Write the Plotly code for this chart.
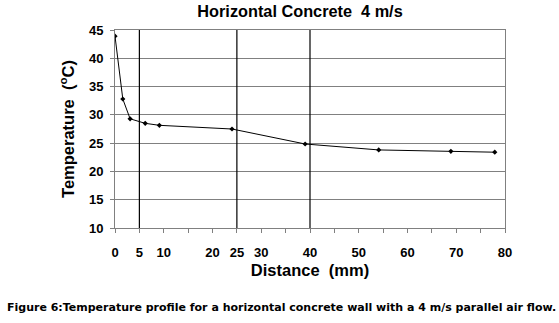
import plotly.graph_objects as go

distance_mm = [0, 1.6, 3.1, 6.2, 9.1, 24.0, 39.0, 54.1, 68.9, 77.9]
temperature_c = [43.9, 32.8, 29.3, 28.5, 28.15, 27.5, 24.85, 23.8, 23.55, 23.4]
x_tick_vals = [0, 5, 10, 20, 25, 30, 40, 50, 60, 70, 80]
y_tick_vals = [10, 15, 20, 25, 30, 35, 40, 45]
ref_lines_mm = [5, 25, 40]

title_text = "Horizontal Concrete\u00a0\u00a04 m/s"
x_title = "Distance\u00a0\u00a0(mm)"
y_title = "Temperature\u00a0\u00a0(<sup>o</sup>C)"
caption = "Figure 6:Temperature profile for a horizontal concrete wall with a 4 m/s parallel air flow."

FONT = "Liberation Sans, Arial, sans-serif"
CAP_FONT = "DejaVu Sans, Liberation Sans, sans-serif"

W, H = 559, 323
L, R, T, B = 115, 505, 30, 228

fig = go.Figure()
fig.add_trace(go.Scatter(
    x=distance_mm, y=temperature_c, mode="lines+markers",
    line=dict(color="black", width=1),
    marker=dict(symbol="diamond", size=4, color="black"),
    showlegend=False, hoverinfo="skip",
))

for xv in ref_lines_mm:
    fig.add_shape(type="line", xref="x", yref="y", x0=xv, x1=xv, y0=10, y1=45,
                  line=dict(color="black", width=1.2))

fig.update_layout(
    width=W, height=H,
    margin=dict(l=L, r=W - R, t=T, b=H - B, autoexpand=False),
    paper_bgcolor="white", plot_bgcolor="white",
    font=dict(family=FONT, color="black"),
    title=dict(text="<b>" + title_text + "</b>", x=300 / W, xanchor="center",
               y=1 - 11 / H, yanchor="middle", font=dict(size=16.3, family=FONT)),
    xaxis=dict(
        range=[0, 80], tickvals=x_tick_vals, ticktext=["<b>%d</b>" % v for v in x_tick_vals],
        ticks="outside", ticklen=4, tickcolor="#808080", ticklabelstandoff=8,
        minor=dict(dtick=5, ticks="outside", ticklen=4, tickcolor="#808080", showgrid=False),
        showgrid=False, showline=True, linecolor="#808080", linewidth=1, mirror=True,
        zeroline=False, tickfont=dict(size=13, family=FONT),
        title=dict(text="<b>" + x_title + "</b>", font=dict(size=16.5, family=FONT), standoff=5),
    ),
    yaxis=dict(
        range=[10, 45], tickvals=y_tick_vals, ticktext=["<b>%d</b>" % v for v in y_tick_vals],
        ticks="outside", ticklen=4, tickcolor="#808080", ticklabelstandoff=4,
        showgrid=True, gridcolor="#808080", gridwidth=1,
        showline=True, linecolor="#808080", linewidth=1, mirror=True,
        zeroline=False, tickfont=dict(size=13, family=FONT),
        title=dict(text="<b>" + y_title + "</b>", font=dict(size=16.5, family=FONT), standoff=10),
    ),
)

fig.add_annotation(
    text="<b>" + caption + "</b>", xref="paper", yref="paper",
    x=(5 - L) / (R - L), xanchor="left", y=(B - 307) / (B - T), yanchor="middle",
    showarrow=False, font=dict(size=11, family=CAP_FONT),
)

fig.write_html("out.html", config={"displayModeBar": False},
               post_script="document.body.style.margin='0';document.body.style.overflow='hidden';")
